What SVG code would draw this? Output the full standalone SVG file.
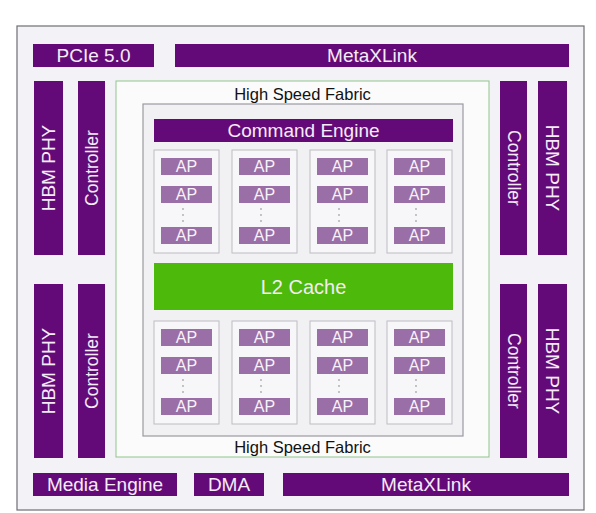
<svg xmlns="http://www.w3.org/2000/svg" width="596" height="513" viewBox="0 0 596 513">
<style>
.blk{fill:#640a78}
.lbl{fill:#f4ecf7;font-family:"Liberation Sans",Arial,sans-serif;font-size:19px;text-anchor:middle;dominant-baseline:central}
.vh{fill:#f4ecf7;font-family:"Liberation Sans",Arial,sans-serif;font-size:19px;text-anchor:middle;dominant-baseline:central}
.vc{fill:#f4ecf7;font-family:"Liberation Sans",Arial,sans-serif;font-size:17.5px;text-anchor:middle;dominant-baseline:central}
.fab{fill:#111;font-family:"Liberation Sans",Arial,sans-serif;font-size:16.5px;text-anchor:middle;dominant-baseline:central}
.col{fill:#f7f7f9;stroke:#bdbdc2;stroke-width:1}
.ap{fill:#9a6ea6}
.apt{fill:#f8f2fa;font-family:"Liberation Sans",Arial,sans-serif;font-size:16px;text-anchor:middle;dominant-baseline:central}
.dot{fill:#aaa}
</style>
<defs>
<g id="apcol">
<rect class="col" x="0" y="0" width="65" height="103"/>
<rect class="ap" x="7" y="8" width="51" height="17"/>
<text class="apt" x="32.5" y="16.5">AP</text>
<rect class="ap" x="7" y="36" width="51" height="17"/>
<text class="apt" x="32.5" y="44.5">AP</text>
<circle class="dot" cx="29" cy="59" r="0.9"/>
<circle class="dot" cx="29" cy="65" r="0.9"/>
<circle class="dot" cx="29" cy="71" r="0.9"/>
<rect class="ap" x="7" y="77" width="51" height="17"/>
<text class="apt" x="32.5" y="85.5">AP</text>
</g>
</defs>
<rect width="596" height="513" fill="#ffffff"/>
<g id="chip">
<rect x="17" y="26" width="567" height="484" fill="#f3f2f7" stroke="#6e6e74" stroke-width="1.2"/>
</g>
<g id="pcie"><rect class="blk" x="33" y="44" width="121" height="23"/><text class="lbl" x="93.5" y="55.5">PCIe 5.0</text></g>
<g id="metaxlink-top"><rect class="blk" x="175" y="44" width="394" height="23"/><text class="lbl" x="372" y="55.5">MetaXLink</text></g>
<g id="hbm-phy-lt"><rect class="blk" x="34" y="81" width="29" height="174"/><text class="vh" transform="translate(48.5,168) rotate(-90)">HBM PHY</text></g>
<g id="ctrl-lt"><rect class="blk" x="78" y="81" width="27" height="174"/><text class="vc" transform="translate(91.5,168) rotate(-90)">Controller</text></g>
<g id="hbm-phy-lb"><rect class="blk" x="34" y="284" width="29" height="174"/><text class="vh" transform="translate(48.5,371) rotate(-90)">HBM PHY</text></g>
<g id="ctrl-lb"><rect class="blk" x="78" y="284" width="27" height="174"/><text class="vc" transform="translate(91.5,371) rotate(-90)">Controller</text></g>
<g id="ctrl-rt"><rect class="blk" x="500" y="81" width="27" height="174"/><text class="vc" transform="translate(513.5,168) rotate(90)">Controller</text></g>
<g id="hbm-phy-rt"><rect class="blk" x="538" y="81" width="29" height="174"/><text class="vh" transform="translate(552.5,168) rotate(90)">HBM PHY</text></g>
<g id="ctrl-rb"><rect class="blk" x="500" y="284" width="27" height="174"/><text class="vc" transform="translate(513.5,371) rotate(90)">Controller</text></g>
<g id="hbm-phy-rb"><rect class="blk" x="538" y="284" width="29" height="174"/><text class="vh" transform="translate(552.5,371) rotate(90)">HBM PHY</text></g>
<g id="fabric">
<rect x="116" y="81" width="373" height="376" fill="#fbfbfc" stroke="#8fc58a" stroke-width="1"/>
<text class="fab" x="302.5" y="93.5">High Speed Fabric</text>
<text class="fab" x="302.5" y="447">High Speed Fabric</text>
</g>
<g id="core">
<rect x="143" y="104" width="320" height="332" fill="#f1f1f4" stroke="#9a9aa0" stroke-width="1.2"/>
</g>
<g id="command-engine"><rect class="blk" x="154" y="119" width="299" height="23"/><text class="lbl" x="303.5" y="130.5">Command Engine</text></g>
<g id="ap-top">
<use href="#apcol" x="154" y="150"/>
<use href="#apcol" x="232" y="150"/>
<use href="#apcol" x="310" y="150"/>
<use href="#apcol" x="387" y="150"/>
</g>
<g id="l2-cache"><rect x="154" y="263" width="299" height="47" fill="#4db90a"/><text class="lbl" x="303.5" y="286.5" style="font-size:20px">L2 Cache</text></g>
<g id="ap-bottom">
<use href="#apcol" x="154" y="321"/>
<use href="#apcol" x="232" y="321"/>
<use href="#apcol" x="310" y="321"/>
<use href="#apcol" x="387" y="321"/>
</g>
<g id="media-engine"><rect class="blk" x="33" y="473" width="144" height="23"/><text class="lbl" x="105" y="484.5">Media Engine</text></g>
<g id="dma"><rect class="blk" x="194" y="473" width="70" height="23"/><text class="lbl" x="229" y="484.5">DMA</text></g>
<g id="metaxlink-bottom"><rect class="blk" x="283" y="473" width="286" height="23"/><text class="lbl" x="426" y="484.5">MetaXLink</text></g>
<g id="connectors"></g>
</svg>
